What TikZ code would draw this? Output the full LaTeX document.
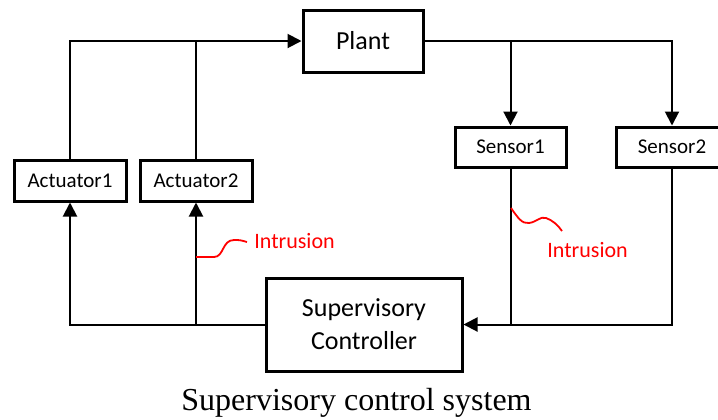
\documentclass[tikz,border=0pt]{standalone}
\usepackage{fontspec}
\setmainfont{Carlito}
\newfontfamily\captionfont{Liberation Serif}
\definecolor{IntrusionRed}{RGB}{255, 0, 0}
\usetikzlibrary{arrows.meta}
\begin{document}
\begin{tikzpicture}[x=0.5pt, y=-0.5pt,
    every node/.style={font=\fontsize{10.5}{12}\selectfont, align=center},
    block/.style={draw, line width=1.5pt, inner sep=0pt},
    smallblock/.style={block, minimum width=56pt, minimum height=20.5pt},
    bigblock/.style={block, font=\fontsize{13}{16.5}\selectfont},
    wire/.style={line width=1pt},
    link/.style={wire, -{Triangle[length=7pt, width=7pt]}},
    wave/.style={IntrusionRed, line width=0.9pt},
    intrusion/.style={text=IntrusionRed, anchor=west, inner sep=0pt, font=\fontsize{11}{13}\selectfont}
]
\clip (0,0) rectangle (718,419);
% Blocuri
\node[bigblock, minimum width=60pt, minimum height=31pt] (plant) at (363,41) {Plant};
\foreach \x/\i in {70/1, 196/2} \node[smallblock] (act\i) at (\x,180.5) {Actuator\i};
\foreach \x/\i in {510.5/1, 672/2} \node[smallblock, minimum width=55.5pt, minimum height=20pt] (sen\i) at (\x,147) {Sensor\i};
\node[bigblock, minimum width=98pt, minimum height=46.5pt] (ctrl) at (364,324.5) {Supervisory\\Controller};
% Actuatori -> plant
\draw[link] (act1.north) |- (plant.west);
\draw[wire] (act2.north) -- (act2.north |- plant.west);
% Plant -> senzori
\draw[link] (plant.east) -| (sen2.north);
\draw[link] (sen1.north |- plant.east) -- (sen1.north);
% Senzori -> controller
\draw[link] (sen2.south) |- (ctrl.east);
\draw[wire] (sen1.south) -- (sen1.south |- ctrl.east);
% Controller -> actuatori
\draw[link] (ctrl.west) -| (act1.south);
\draw[link] (act2.south |- ctrl.west) -- (act2.south);
% Intruziuni
\coordinate (hit1) at (196,257);
\coordinate (hit2) at (511,208);
\draw[wave] (hit1) -- (214,257) .. controls (224,257) and (222,240) .. (234,240) .. controls (240,240) .. (247,242);
\node[intrusion] (intr1) at (254,241) {Intrusion};
\draw[wave] (hit2) .. controls (518,218) and (522,224) .. (529,223) .. controls (537,222) and (540,216) .. (546,218) .. controls (552,220) and (558,225) .. (562,231);
\node[intrusion] (intr2) at (547,250) {Intrusion};
% Titlu
\node[font=\captionfont\fontsize{16}{19}\selectfont, anchor=base] (caption) at (356.5,410) {Supervisory control system};
\end{tikzpicture}
\end{document}
